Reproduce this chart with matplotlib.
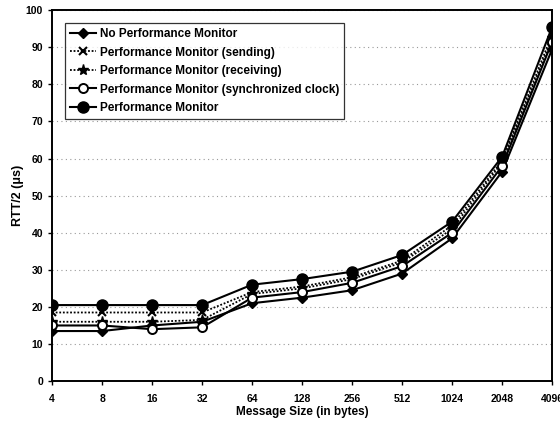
import numpy as np
import matplotlib.pyplot as plt

plt.rcParams['font.family'] = ['Liberation Sans', 'DejaVu Sans']

sizes = ["4", "8", "16", "32", "64", "128", "256", "512", "1024", "2048", "4096"]

no_monitor = [13.5, 13.5, 15, 16, 21, 22.5, 24.5, 29, 38.5, 56.5, 89.5]
monitor_sending = [18.5, 18.5, 18.5, 18.5, 24, 25.5, 28, 32.5, 42, 59.5, 93.5]
monitor_receiving = [16, 16, 16, 16.5, 23.5, 25, 27.5, 32, 41, 59, 92.5]
monitor_sync = [15, 15, 14, 14.5, 22.5, 24, 26.5, 31, 40, 58, 91.5]
monitor_full = [20.5, 20.5, 20.5, 20.5, 26, 27.5, 29.5, 34, 43, 60.5, 95.5]

fig = plt.figure(figsize=(5.6, 4.23), dpi=100)
ax = fig.add_axes([0.093, 0.099, 0.893, 0.877])

x = np.arange(len(sizes))
ax.plot(x, no_monitor, color="black", lw=1.5, marker="D", ms=5.5,
        label="No Performance Monitor")
ax.plot(x, monitor_sending, color="black", lw=1.3, ls=(0, (1, 1)), marker="x",
        ms=6, mew=1.5, label="Performance Monitor (sending)")
ax.plot(x, monitor_receiving, color="black", lw=1.3, ls=(0, (1, 1)), marker="*",
        ms=8, label="Performance Monitor (receiving)")
ax.plot(x, monitor_sync, color="black", lw=1.5, marker="o", ms=6.5,
        mfc="white", mew=1.4, label="Performance Monitor (synchronized clock)")
ax.plot(x, monitor_full, color="black", lw=1.5, marker="o", ms=8,
        label="Performance Monitor")

ax.set_xlim(0, len(sizes) - 1)
ax.set_ylim(0, 100)
ax.set_xticks(x)
ax.set_xticklabels(sizes)
ax.set_yticks(np.arange(0, 101, 10))
ax.tick_params(labelsize=7.5, length=3, width=1)
for lbl in ax.get_xticklabels() + ax.get_yticklabels():
    lbl.set_fontweight("bold")
ax.tick_params(axis="x", pad=6)

ax.yaxis.grid(True, color="#999999", ls=(0, (1, 3)), lw=0.8)
ax.set_axisbelow(True)
for sp in ax.spines.values():
    sp.set_linewidth(1.4)

ax.set_xlabel("Message Size (in bytes)", fontsize=8.5, fontweight="bold", labelpad=2)
ax.set_ylabel("RTT/2 (\u03bcs)", fontsize=9, fontweight="bold", labelpad=1)

leg = ax.legend(loc="upper left", bbox_to_anchor=(0.014, 0.982),
                prop={"weight": "bold", "size": 8.5},
                frameon=True, fancybox=False, edgecolor="black",
                handlelength=2.2, labelspacing=0.55, borderpad=0.45,
                handletextpad=0.3)
leg.get_frame().set_linewidth(0.9)

fig.savefig("out.png", dpi=100)
